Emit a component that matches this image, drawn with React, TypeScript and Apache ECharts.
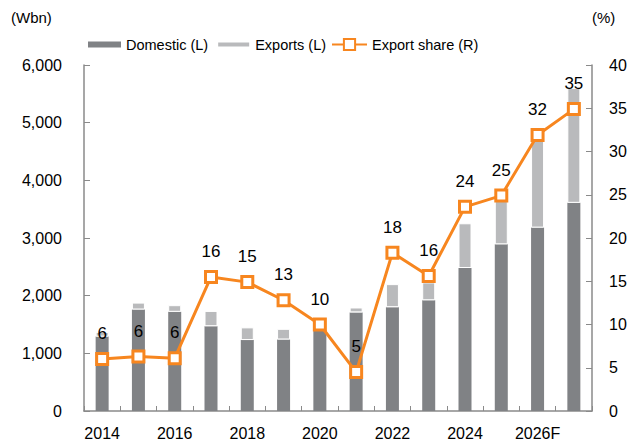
import React, { useEffect, useRef } from "react";
import * as echarts from "echarts";

const years = ["2014", "2015", "2016", "2017", "2018", "2019", "2020", "2021", "2022", "2023", "2024", "2025", "2026F", "2027F"];
const domestic = [1290, 1760, 1720, 1470, 1230, 1240, 1400, 1710, 1800, 1920, 2480, 2890, 3180, 3610];
const exportsVals = [80, 120, 115, 265, 220, 185, 60, 85, 400, 310, 775, 810, 1570, 1990];
const exportShare = [6.0, 6.3, 6.1, 15.5, 14.9, 12.8, 10.0, 4.5, 18.3, 15.6, 23.6, 24.9, 31.9, 34.9];
const leftTicks = { min: 0, max: 6000, interval: 1000 };
const rightTicks = { min: 0, max: 40, interval: 5 };

const FONT = "'Liberation Sans', Arial, sans-serif";
const DARK = "#808285";
const LIGHT = "#b9babc";
const ORANGE = "#f7861f";
const AXIS = "#8a8a8a";

export default function App() {
  const ref = useRef<HTMLDivElement>(null);
  useEffect(() => {
    if (!ref.current) return;
    const chart = echarts.init(ref.current, null, { renderer: "svg" });
    chart.setOption({
      animation: false,
      textStyle: { fontFamily: FONT },
      grid: { left: 84, right: 46, top: 65, bottom: 37 },
      graphic: [
        { type: "text", left: 11, top: 10, style: { text: "(Wbn)", font: `15px ${FONT}`, fill: "#000" } },
        { type: "text", left: 592, top: 10, style: { text: "(%)", font: `15px ${FONT}`, fill: "#000" } },
      ],
      legend: [
        {
          left: 88, top: 37, padding: 0, itemWidth: 33, itemHeight: 6, itemGap: 8,
          textStyle: { fontSize: 14.5, color: "#000", fontFamily: FONT },
          data: [{ name: "Domestic (L)", icon: "rect" }, { name: "Exports (L)", icon: "rect" }],
        },
        {
          left: 331, top: 37, padding: 0, itemWidth: 35, itemHeight: 14,
          textStyle: { fontSize: 14.5, color: "#000", fontFamily: FONT },
          data: ["Export share (R)"],
        },
      ],
      xAxis: {
        type: "category",
        data: years,
        boundaryGap: true,
        axisLine: { lineStyle: { color: AXIS, width: 1.5 } },
        axisTick: { show: true, inside: true, length: 5, interval: 0, lineStyle: { color: AXIS } },
        axisLabel: { interval: 1, color: "#000", fontSize: 16, margin: 14, fontFamily: FONT },
      },
      yAxis: [
        {
          type: "value", ...leftTicks,
          axisLine: { show: true, lineStyle: { color: AXIS, width: 1.5 } },
          axisTick: { show: true, inside: true, length: 6, lineStyle: { color: AXIS } },
          splitLine: { show: false },
          axisLabel: {
            color: "#000", fontSize: 16, margin: 22, fontFamily: FONT,
            formatter: (v: number) => v.toLocaleString("en-US"),
          },
        },
        {
          type: "value", ...rightTicks,
          axisLine: { show: true, lineStyle: { color: AXIS, width: 1.5 } },
          axisTick: { show: true, inside: true, length: 6, lineStyle: { color: AXIS } },
          splitLine: { show: false },
          axisLabel: { color: "#000", fontSize: 16, margin: 17, fontFamily: FONT },
        },
      ],
      series: [
        {
          name: "Domestic (L)", type: "bar", stack: "t", data: domestic, barWidth: 13,
          itemStyle: { color: DARK },
        },
        {
          name: "Exports (L)", type: "bar", stack: "t", data: exportsVals, barWidth: 13,
          itemStyle: { color: LIGHT, borderColor: "#fff", borderWidth: 1 },
        },
        {
          name: "Export share (R)", type: "line", yAxisIndex: 1, data: exportShare,
          symbol: "rect", symbolSize: 11,
          lineStyle: { color: ORANGE, width: 3 },
          itemStyle: { color: "#fff", borderColor: ORANGE, borderWidth: 3 },
          label: {
            show: true, position: "top", distance: 10, color: "#000", fontSize: 17, fontFamily: FONT,
            formatter: (p: any) => String(Math.round(p.value)),
          },
          z: 5,
        },
      ],
    });
    return () => chart.dispose();
  }, []);
  return <div ref={ref} style={{ width: 638, height: 448, margin: -8 }} />;
}
